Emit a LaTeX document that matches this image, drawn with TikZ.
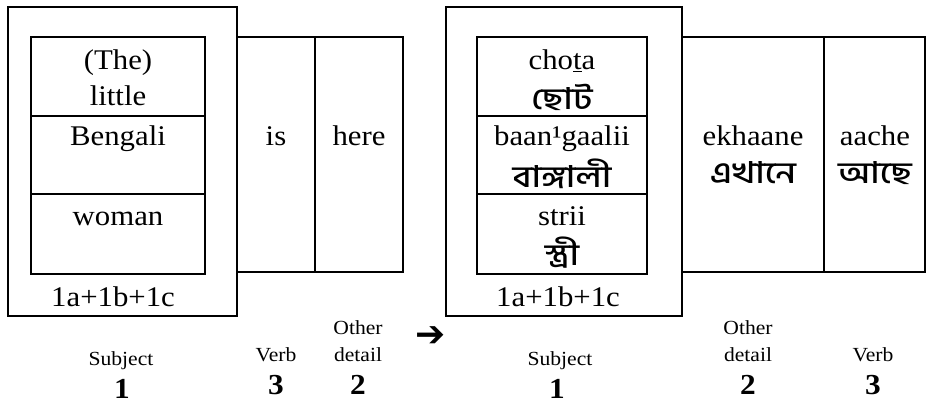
\documentclass[tikz,border=0pt]{standalone}
\usepackage{fontspec}
\setmainfont{Liberation Serif}[FakeStretch=1.08]
\newfontfamily\bnfont[Script=Bengali, UprightFont=* Medium, FakeStretch=1.2]{Hind Siliguri}
\newfontfamily\symfont{DejaVu Sans}
\begin{document}
\begin{tikzpicture}[x=1pt,y=-1pt,
  heavy/.style={line width=2.6pt},
  light/.style={line width=1.1pt},
  big/.style={font=\fontsize{28.5}{30}\selectfont, inner sep=0pt, anchor=base},
  bn/.style={font=\bnfont\fontsize{30}{32}\selectfont, inner sep=0pt, anchor=center},
  small/.style={font=\fontsize{20}{22}\selectfont, inner sep=0pt, anchor=base},
  num/.style={font=\bfseries\fontsize{29}{30}\selectfont, inner sep=0pt, anchor=base}]
\useasboundingbox (0,0) rectangle (928,404);

% ---------- left (English) ----------
\draw[heavy] (8,7) rectangle (237,316);
\draw[heavy] (31,37) rectangle (205,274);
\draw[light] (31,116) -- (205,116);
\draw[light] (31,194) -- (205,194);
\draw[heavy] (237,37) -- (403,37) -- (403,272) -- (237,272);
\draw[heavy] (315,37) -- (315,272);

\node[big] (the) at (118,69) {(The)};
\node[big] (little) at (118,105) {little};
\node[big] (bengali) at (118,145) {Bengali};
\node[big] (woman) at (118,225) {woman};
\node[big] (lsum) at (113,306) {1a+1b+1c};
\node[big] (is) at (276,145) {is};
\node[big] (here) at (359,145) {here};

\node[small] (lsubj) at (121,365) {Subject};
\node[num] (lone) at (122,398) {1};
\node[small] (lverb) at (276,361) {Verb};
\node[num] (lthree) at (276,394) {3};
\node[small] (lother) at (358,334) {Other};
\node[small] (ldetail) at (358,361) {detail};
\node[num] (ltwo) at (358,394) {2};

% ---------- arrow ----------
\node[font=\symfont\bfseries\fontsize{36}{36}\selectfont, inner sep=0pt] (arr) at (431,337) {➔};

% ---------- right (Bengali) ----------
\draw[heavy] (446,7) rectangle (682,316);
\draw[heavy] (477,37) rectangle (647,274);
\draw[light] (477,116) -- (647,116);
\draw[light] (477,194) -- (647,194);
\draw[heavy] (682,37) -- (925,37) -- (925,272) -- (682,272);
\draw[heavy] (824,37) -- (824,272);

\node[big] (chota) at (562,70) {cho\underline{t}a};
\node[bn] (chotabn) at (562,97) {ছোট};
\node[big] (baan) at (562,145) {baan¹gaalii};
\node[bn] (baanbn) at (562,174) {বাঙ্গালী};
\node[big] (strii) at (562,225) {strii};
\node[bn] (striibn) at (562,253) {স্ত্রী};
\node[big] (rsum) at (558,306) {1a+1b+1c};
\node[big] (ekh) at (753,145) {ekhaane};
\node[bn] (ekhbn) at (753,173) {এখানে};
\node[big] (aache) at (875,145) {aache};
\node[bn] (aachebn) at (875,173) {আছে};

\node[small] (rsubj) at (560,365) {Subject};
\node[num] (rone) at (557,398) {1};
\node[small] (rother) at (748,334) {Other};
\node[small] (rdetail) at (748,361) {detail};
\node[num] (rtwo) at (748,394) {2};
\node[small] (rverb) at (873,361) {Verb};
\node[num] (rthree) at (873,394) {3};
\end{tikzpicture}
\end{document}
